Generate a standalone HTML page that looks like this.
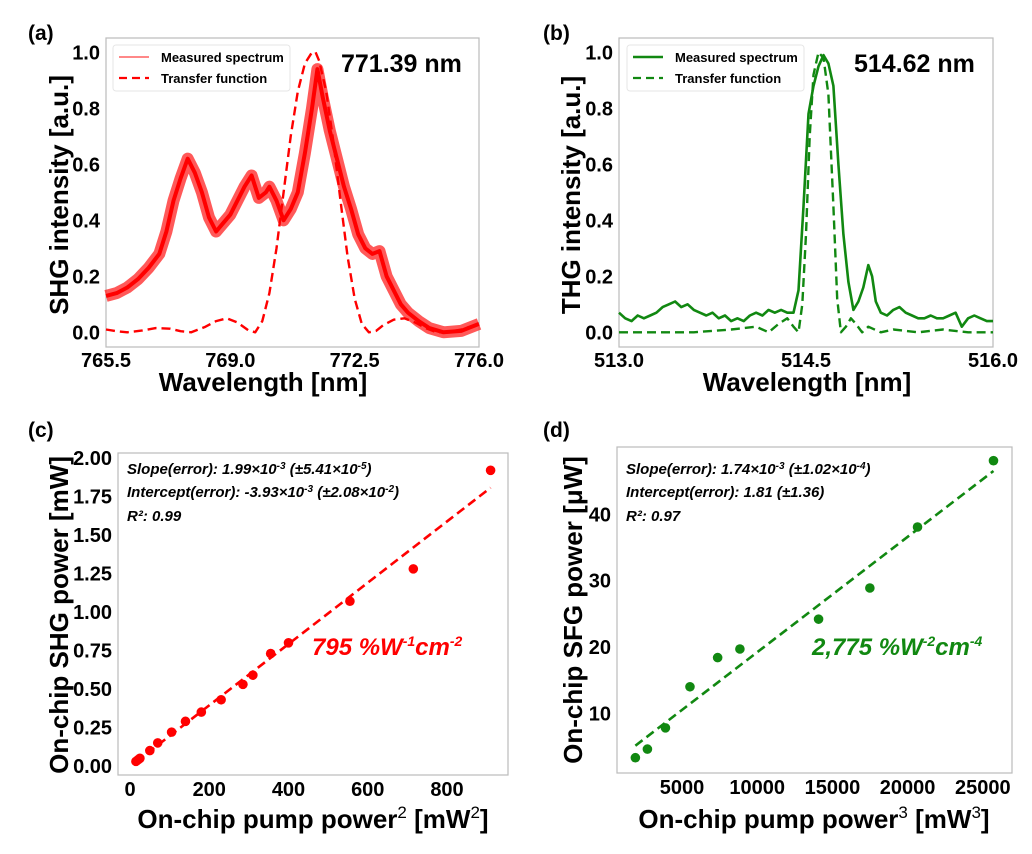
<!DOCTYPE html>
<html><head><meta charset="utf-8">
<style>
html,body{margin:0;padding:0;background:#fff;}
svg{display:block;font-family:"Liberation Sans",Arial,sans-serif;font-weight:bold;}
</style></head>
<body>
<svg id="fig" width="1032" height="854" viewBox="0 0 1032 854" xmlns="http://www.w3.org/2000/svg"></svg>
<script>
// ---- data ----
const aMeasX=[765.5,765.8,766.1,766.4,766.7,767.0,767.2,767.4,767.6,767.8,768.0,768.2,768.4,768.6,768.8,769.0,769.2,769.4,769.6,769.8,770.0,770.1,770.3,770.5,770.7,770.9,771.1,771.3,771.45,771.6,771.8,772.0,772.2,772.4,772.6,772.8,773.0,773.2,773.4,773.6,773.8,774.0,774.3,774.6,775.0,775.5,776.0];
const aMeasY=[0.13,0.14,0.16,0.19,0.23,0.28,0.36,0.47,0.55,0.62,0.57,0.50,0.41,0.36,0.39,0.42,0.47,0.52,0.56,0.48,0.50,0.52,0.47,0.40,0.44,0.50,0.64,0.80,0.94,0.84,0.72,0.62,0.52,0.44,0.35,0.30,0.28,0.29,0.20,0.15,0.10,0.07,0.04,0.015,0.0,0.005,0.03];
const aTfX=[765.5,765.8,766.1,766.5,766.9,767.3,767.6,767.9,768.3,768.6,768.9,769.2,769.5,769.7,769.9,770.1,770.3,770.5,770.7,770.9,771.1,771.3,771.4,771.5,771.7,771.9,772.1,772.3,772.5,772.7,772.9,773.1,773.3,773.6,773.9,774.2,774.5,774.8,775.1,775.5,776.0];
const aTfY=[0.01,0.004,0.0,0.006,0.015,0.013,0.004,0.0,0.02,0.04,0.05,0.035,0.008,0.0,0.04,0.14,0.30,0.50,0.70,0.86,0.96,1.0,1.0,0.97,0.86,0.68,0.47,0.27,0.12,0.03,0.0,0.005,0.025,0.045,0.05,0.035,0.015,0.0,0.0,0.01,0.03];
const bMeasX=[513.0,513.05,513.1,513.15,513.2,513.25,513.3,513.35,513.4,513.45,513.5,513.55,513.6,513.65,513.7,513.75,513.8,513.85,513.9,513.95,514.0,514.05,514.1,514.15,514.2,514.25,514.3,514.35,514.4,514.44,514.48,514.52,514.56,514.6,514.64,514.68,514.72,514.76,514.8,514.84,514.88,514.92,514.96,515.0,515.03,515.06,515.1,515.15,515.2,515.25,515.3,515.35,515.4,515.45,515.5,515.55,515.6,515.65,515.7,515.75,515.8,515.85,515.9,515.95,516.0];
const bMeasY=[0.07,0.05,0.04,0.06,0.05,0.06,0.07,0.09,0.10,0.11,0.09,0.10,0.08,0.07,0.06,0.07,0.05,0.06,0.04,0.05,0.04,0.06,0.07,0.06,0.08,0.07,0.08,0.07,0.07,0.15,0.45,0.78,0.88,0.95,0.99,0.96,0.88,0.60,0.35,0.18,0.08,0.11,0.16,0.24,0.20,0.11,0.07,0.06,0.08,0.09,0.07,0.06,0.05,0.05,0.06,0.05,0.05,0.06,0.07,0.02,0.05,0.06,0.05,0.04,0.04];
const bTfX=[513.0,513.3,513.6,513.9,514.1,514.2,514.28,514.35,514.4,514.44,514.47,514.5,514.53,514.56,514.6,514.64,514.68,514.72,514.75,514.78,514.82,514.86,514.9,514.95,515.0,515.1,515.2,515.4,515.6,515.8,516.0];
const bTfY=[0.0,0.0,0.0,0.01,0.02,0.0,0.03,0.05,0.02,0.0,0.1,0.35,0.7,0.92,1.0,0.98,0.85,0.45,0.12,0.0,0.02,0.05,0.03,0.0,0.02,0.0,0.01,0.0,0.01,0.0,0.0];
const cX=[15,20,25,50,70,105,140,180,230,285,310,355,400,555,715,910];
const cY=[0.03,0.04,0.05,0.10,0.15,0.22,0.29,0.35,0.43,0.53,0.59,0.73,0.80,1.07,1.28,1.92];
const cFit=[0.00199,-0.004];
const dX=[1900,2700,3900,5530,7370,8850,14080,17490,20660,25710];
const dY=[3.3,4.6,7.8,14.0,18.4,19.7,24.2,28.9,38.1,48.1];
const dFit=[0.00174,1.81];
const specTicks=[0,0.2,0.4,0.6,0.8,1.0];
const aXTicks=[765.5,769.0,772.5,776.0];
const bXTicks=[513.0,514.5,516.0];
const cXTicks=[0,200,400,600,800];
const cYTicks=[0,0.25,0.5,0.75,1.0,1.25,1.5,1.75,2.0];
const dXTicks=[5000,10000,15000,20000,25000];
const dYTicks=[10,20,30,40];

const NS="http://www.w3.org/2000/svg";
const svg=document.getElementById('fig');
function mk(tag,attrs,parent,text){const e=document.createElementNS(NS,tag);for(const k in attrs)e.setAttribute(k,attrs[k]);if(text!==undefined)e.textContent=text;(parent||svg).appendChild(e);return e;}
function lin(d0,d1,r0,r1){return v=>r0+(v-d0)/(d1-d0)*(r1-r0);}

function panel(o){
  const g=mk('g',{});
  
  
  const fr=mk('rect',{x:o.x0,y:o.y0,width:o.x1-o.x0,height:o.y1-o.y0,fill:'none',stroke:'#bbb','stroke-width':1.2},g);
  
  
  const lab=mk('text',{x:o.lx,y:o.ly,'font-size':21},g,o.label);
  
  
  o.xt.forEach((t,i)=>{const e=mk('text',{x:o.sx(t),y:o.tickY,'font-size':20,'text-anchor':'middle'},g,o.xtl[i]);
    
    });
  o.yt.forEach((t,i)=>{const e=mk('text',{x:o.x0-6,y:o.sy(t)+7,'font-size':20,'text-anchor':'end'},g,o.ytl[i]);
    
    });
  return g;
}
function poly(g,xs,ys,sx,sy,attrs,name){
  const pts=xs.map((x,i)=>sx(x).toFixed(1)+','+sy(ys[i]).toFixed(1)).join(' ');
  const e=mk('polyline',Object.assign({points:pts,fill:'none','stroke-linejoin':'round'},attrs),g);
  
  
  return e;
}

// ---- panel a ----
{const o={name:'panel-a-shg-spectrum',x0:106,x1:479,y0:38,y1:347,lx:28,ly:40,label:'(a)',tickY:367};
 o.sx=lin(765.5,776,106,479);o.sy=lin(0,1,332.3,52.3);
 o.xt=aXTicks;o.xtl=aXTicks.map(v=>v.toFixed(1));o.yt=specTicks;o.ytl=specTicks.map(v=>v.toFixed(1));
 const g=panel(o);
 poly(g,aMeasX,aMeasY,o.sx,o.sy,{stroke:'#ff3030','stroke-width':12,'stroke-opacity':0.8},'measured-spectrum-line');
 poly(g,aMeasX,aMeasY,o.sx,o.sy,{stroke:'#f00','stroke-width':4},'measured-spectrum-core');
 poly(g,aTfX,aTfY,o.sx,o.sy,{stroke:'#f00','stroke-width':2.4,'stroke-dasharray':'9,5'},'transfer-function-line');
 const lg=mk('g',{},g);
 mk('rect',{x:113,y:45,width:177,height:46,rx:3,fill:'#fff',stroke:'#e6e6e6'},lg);
 mk('line',{x1:119,y1:57,x2:149,y2:57,stroke:'#ff6060','stroke-width':1.5},lg);
 mk('line',{x1:119,y1:78,x2:149,y2:78,stroke:'#f00','stroke-width':2.2,'stroke-dasharray':'8,5'},lg);
 mk('text',{x:161,y:62,'font-size':13},lg,'Measured spectrum');
 mk('text',{x:161,y:83,'font-size':13},lg,'Transfer function');
 const a=mk('text',{x:341,y:72,'font-size':25},g,'771.39 nm');
 const xt=mk('text',{x:263,y:391,'font-size':26,'text-anchor':'middle'},g,'Wavelength [nm]');
 const yt=mk('text',{x:0,y:0,'font-size':26,'text-anchor':'middle',transform:'translate(68,195) rotate(-90)'},g,'SHG intensity [a.u.]');
}
// ---- panel b ----
{const o={name:'panel-b-thg-spectrum',x0:619,x1:993,y0:38,y1:347,lx:543,ly:40,label:'(b)',tickY:367};
 o.sx=lin(513,516,619,993);o.sy=lin(0,1,332.3,52.3);
 o.xt=bXTicks;o.xtl=bXTicks.map(v=>v.toFixed(1));o.yt=specTicks;o.ytl=specTicks.map(v=>v.toFixed(1));
 const g=panel(o);
 poly(g,bMeasX,bMeasY,o.sx,o.sy,{stroke:'#118811','stroke-width':2.6},'measured-spectrum-line');
 poly(g,bTfX,bTfY,o.sx,o.sy,{stroke:'#118811','stroke-width':2.4,'stroke-dasharray':'9,5'},'transfer-function-line');
 const lg=mk('g',{},g);
 mk('rect',{x:627,y:45,width:177,height:46,rx:3,fill:'#fff',stroke:'#e6e6e6'},lg);
 mk('line',{x1:633,y1:57,x2:663,y2:57,stroke:'#118811','stroke-width':2.5},lg);
 mk('line',{x1:633,y1:78,x2:663,y2:78,stroke:'#118811','stroke-width':2.2,'stroke-dasharray':'8,5'},lg);
 mk('text',{x:675,y:62,'font-size':13},lg,'Measured spectrum');
 mk('text',{x:675,y:83,'font-size':13},lg,'Transfer function');
 const a=mk('text',{x:854,y:72,'font-size':25},g,'514.62 nm');
 const xt=mk('text',{x:807,y:391,'font-size':26,'text-anchor':'middle'},g,'Wavelength [nm]');
 const yt=mk('text',{x:0,y:0,'font-size':26,'text-anchor':'middle',transform:'translate(580,195) rotate(-90)'},g,'THG intensity [a.u.]');
}
// ---- panel c ----
{const o={name:'panel-c-shg-power',x0:118,x1:508,y0:453,y1:775,lx:28,ly:437,label:'(c)',tickY:796};
 o.sx=lin(0,800,130,447);o.sy=lin(0,2,766,458);
 o.xt=cXTicks;o.xtl=cXTicks.map(String);o.yt=cYTicks;o.ytl=cYTicks.map(v=>v.toFixed(2));
 const g=panel(o);
 const x0=cX[0],x1=cX[cX.length-1];
 const f=mk('line',{x1:o.sx(x0),y1:o.sy(cFit[0]*x0+cFit[1]),x2:o.sx(x1),y2:o.sy(cFit[0]*x1+cFit[1]),stroke:'#f00','stroke-width':2.6,'stroke-dasharray':'9,5'},g);
 
 cX.forEach((x,i)=>{const c=mk('circle',{cx:o.sx(x),cy:o.sy(cY[i]),r:4.8,fill:'#f00'},g);
   });
 const st=mk('g',{'font-size':15,'font-style':'italic'},g);
 const t1=mk('text',{x:127,y:474},st);t1.innerHTML='Slope(error): 1.99×10<tspan dy="-5" font-size="10">-3</tspan><tspan dy="5"> (±5.41×10</tspan><tspan dy="-5" font-size="10">-5</tspan><tspan dy="5">)</tspan>';
 const t2=mk('text',{x:127,y:497},st);t2.innerHTML='Intercept(error): -3.93×10<tspan dy="-5" font-size="10">-3</tspan><tspan dy="5"> (±2.08×10</tspan><tspan dy="-5" font-size="10">-2</tspan><tspan dy="5">)</tspan>';
 mk('text',{x:127,y:521},st,'R²: 0.99');
 const e=mk('text',{x:312,y:655,'font-size':24,'font-style':'italic',fill:'#f00'},g);e.innerHTML='795 %W<tspan dy="-9" font-size="14">-1</tspan><tspan dy="9">cm</tspan><tspan dy="-9" font-size="14">-2</tspan>';
 
 const xt=mk('text',{x:313,y:828,'font-size':26,'text-anchor':'middle'},g);xt.innerHTML='On-chip pump power<tspan dy="-10" font-size="17" font-weight="normal">2</tspan><tspan dy="10"> [mW</tspan><tspan dy="-10" font-size="17" font-weight="normal">2</tspan><tspan dy="10">]</tspan>';
 
 const yt=mk('text',{x:0,y:0,'font-size':26,'text-anchor':'middle',transform:'translate(68,615) rotate(-90)'},g,'On-chip SHG power [mW]');
}
// ---- panel d ----
{const o={name:'panel-d-sfg-power',x0:617,x1:1012,y0:447,y1:773,lx:543,ly:437,label:'(d)',tickY:794};
 o.sx=lin(0,5000,606.8,682);o.sy=lin(0,10,779.6,713.3);
 o.xt=dXTicks;o.xtl=dXTicks.map(String);o.yt=dYTicks;o.ytl=dYTicks.map(String);
 const g=panel(o);
 const x0=dX[0],x1=dX[dX.length-1];
 const f=mk('line',{x1:o.sx(x0),y1:o.sy(dFit[0]*x0+dFit[1]),x2:o.sx(x1),y2:o.sy(dFit[0]*x1+dFit[1]),stroke:'#118811','stroke-width':2.6,'stroke-dasharray':'9,5'},g);
 
 dX.forEach((x,i)=>{const c=mk('circle',{cx:o.sx(x),cy:o.sy(dY[i]),r:4.8,fill:'#118811'},g);
   });
 const st=mk('g',{'font-size':15,'font-style':'italic'},g);
 const t1=mk('text',{x:626,y:474},st);t1.innerHTML='Slope(error): 1.74×10<tspan dy="-5" font-size="10">-3</tspan><tspan dy="5"> (±1.02×10</tspan><tspan dy="-5" font-size="10">-4</tspan><tspan dy="5">)</tspan>';
 mk('text',{x:626,y:497},st,'Intercept(error): 1.81 (±1.36)');
 mk('text',{x:626,y:521},st,'R²: 0.97');
 const e=mk('text',{x:812,y:655,'font-size':24,'font-style':'italic',fill:'#118811'},g);e.innerHTML='2,775 %W<tspan dy="-9" font-size="14">-2</tspan><tspan dy="9">cm</tspan><tspan dy="-9" font-size="14">-4</tspan>';
 
 const xt=mk('text',{x:814,y:828,'font-size':26,'text-anchor':'middle'},g);xt.innerHTML='On-chip pump power<tspan dy="-10" font-size="17" font-weight="normal">3</tspan><tspan dy="10"> [mW</tspan><tspan dy="-10" font-size="17" font-weight="normal">3</tspan><tspan dy="10">]</tspan>';
 
 const yt=mk('text',{x:0,y:0,'font-size':26,'text-anchor':'middle',transform:'translate(582,610) rotate(-90)'},g,'On-chip SFG power [μW]');
}
</script>
</body></html>
